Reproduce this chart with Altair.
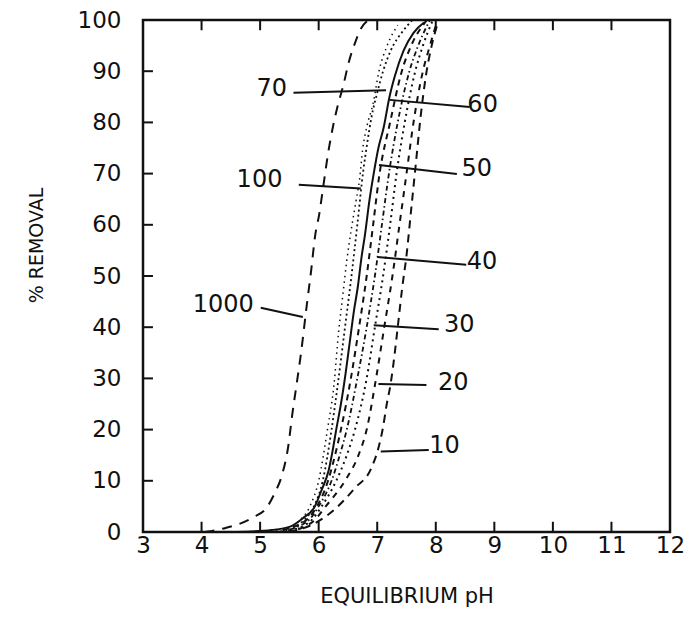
import altair as alt
import pandas as pd

# Axis ticks
ph_ticks = [3, 4, 5, 6, 7, 8, 9, 10, 11, 12]
removal_ticks = [0, 10, 20, 30, 40, 50, 60, 70, 80, 90, 100]
inner_ph_ticks = [4, 5, 6, 7, 8, 9, 10, 11]
inner_removal_ticks = [10, 20, 30, 40, 50, 60, 70, 80, 90]

# Removal curves: equilibrium pH against % removal
ph_1000 = [4.05, 4.38, 4.87, 5.12, 5.25, 5.37, 5.48, 5.55, 5.62, 5.69, 5.80, 5.87,
           5.94, 6.01, 6.08, 6.16, 6.25, 6.32, 6.42, 6.52, 6.62, 6.72, 6.85]
pct_1000 = [0, 0.7, 2.8, 4.9, 7.6, 11, 16.7, 23, 28.6, 34.2, 44.6, 50.9,
            57.9, 62.1, 67.6, 73.9, 79.5, 83, 87.2, 92, 95.5, 98.3, 100]

ph_100 = [5.3, 5.65, 5.85, 6.0, 6.15, 6.26, 6.34, 6.41, 6.48, 6.56, 6.64, 6.70,
          6.75, 6.83, 6.93, 7.03, 7.17, 7.35]
pct_100 = [0, 2, 5, 10, 20, 28.6, 39, 46, 53, 59.3, 64.8, 69,
           74.6, 79.5, 83.7, 90, 95, 99]

ph_70 = [5.4, 5.72, 5.92, 6.07, 6.22, 6.34, 6.45, 6.56, 6.66, 6.76, 6.83, 6.90,
         7.0, 7.10, 7.23, 7.45, 7.6]
pct_70 = [0, 2, 5, 10, 20, 30, 40, 50, 60, 70.4, 76, 80.9,
          85.8, 90, 94, 98, 100]

ph_60 = [4.6, 5.2, 5.5, 5.73, 5.93, 6.05, 6.17, 6.24, 6.30, 6.38, 6.46, 6.53,
         6.60, 6.67, 6.73, 6.79, 6.87, 6.94, 7.02, 7.11, 7.21, 7.30, 7.45, 7.62, 7.8]
pct_60 = [0, 0.4, 1.0, 2.7, 4.9, 8.2, 12, 16, 20, 25, 31, 37,
          43, 48, 53.5, 58, 65, 70, 75, 79, 85, 89, 94, 97.5, 99.5]

pct_levels = [0, 2, 5, 10, 15, 20, 30, 40, 50, 60, 70, 80, 90, 95, 100]
ph_50 = [5.2, 5.75, 5.97, 6.16, 6.28, 6.38, 6.55, 6.69, 6.82, 6.93, 7.04, 7.22, 7.42, 7.58, 7.85]
ph_40 = [5.3, 5.8, 6.0, 6.22, 6.36, 6.48, 6.66, 6.82, 6.96, 7.08, 7.2, 7.35, 7.55, 7.7, 7.9]
ph_30 = [5.4, 5.85, 6.05, 6.3, 6.48, 6.62, 6.82, 6.96, 7.1, 7.22, 7.33, 7.47, 7.65, 7.78, 7.95]
ph_20 = [5.45, 5.9, 6.12, 6.45, 6.68, 6.82, 6.98, 7.12, 7.26, 7.38, 7.5, 7.62, 7.78, 7.9, 8.03]

ph_10 = [5.5, 5.95, 6.3, 6.62, 6.90, 7.02, 7.10, 7.16, 7.23, 7.30, 7.35, 7.43,
         7.50, 7.58, 7.66, 7.74, 7.83, 7.93, 8.05]
pct_10 = [0, 1.8, 4.7, 8.6, 12.5, 16.4, 20.5, 24.8, 29, 35, 40, 48,
          54, 63, 72, 81, 89, 95, 100]

# Curve labels and their leader lines
label_text = ["70", "60", "100", "50", "1000", "40", "30", "20", "10"]
label_ph = [5.20, 8.80, 4.99, 8.70, 4.37, 8.79, 8.40, 8.30, 8.15]
label_pct = [86.5, 83.4, 68.8, 70.9, 44.3, 52.7, 40.4, 29.1, 16.8]
leader_ph_start = [5.57, 7.21, 5.66, 7.03, 5.01, 7.00, 6.94, 7.02, 7.06]
leader_pct_start = [85.8, 84.4, 67.8, 71.7, 43.8, 53.7, 40.4, 28.9, 15.7]
leader_ph_end = [7.15, 8.58, 6.72, 8.36, 5.73, 8.52, 8.05, 7.84, 7.88]
leader_pct_end = [86.3, 83.0, 67.1, 69.9, 42.0, 52.2, 39.6, 28.7, 16.0]

curves = [
    ("1000", ph_1000, pct_1000, [10, 8], 2.0),
    ("100", ph_100, pct_100, [1.5, 4], 1.5),
    ("70", ph_70, pct_70, [2, 3], 1.8),
    ("60", ph_60, pct_60, [], 2.0),
    ("50", ph_50, pct_levels, [6, 5], 2.0),
    ("40", ph_40, pct_levels, [5, 3, 1.5, 3], 1.8),
    ("30", ph_30, pct_levels, [2, 4], 2.0),
    ("20", ph_20, pct_levels, [6, 6], 2.0),
    ("10", ph_10, pct_10, [8, 6], 2.0),
]

FONT = "DejaVu Sans"
INK = "#111111"
TICK_PCT = 2.0     # inner tick length in % units
TICK_PH = 0.17     # inner tick length in pH units

x_scale = alt.Scale(domain=[3, 12], nice=False, zero=False)
y_scale = alt.Scale(domain=[0, 100], nice=False, zero=False)

x_axis = alt.Axis(values=ph_ticks, title="EQUILIBRIUM pH", ticks=False, domain=False,
                  grid=False, labelPadding=2, titlePadding=28, labelFlush=False,
                  labelOverlap=False, format="d")
y_axis = alt.Axis(values=removal_ticks, title="% REMOVAL", ticks=False, domain=False,
                  grid=False, labelPadding=22, labelFlush=False, labelOverlap=False,
                  titleAngle=-90, titleX=-107, titleY=225, titleAlign="center",
                  titleBaseline="middle", format="d")


def X(field):
    return alt.X(f"{field}:Q", scale=x_scale, axis=x_axis)


def Y(field):
    return alt.Y(f"{field}:Q", scale=y_scale, axis=y_axis)


layers = []
for name, phs, pcts, dash, width in curves:
    df = pd.DataFrame({"ph": phs, "pct": pcts, "curve": name})
    mark_kw = dict(color=INK, strokeWidth=width, interpolate="monotone")
    if dash:
        mark_kw["strokeDash"] = dash
    layers.append(
        alt.Chart(df).mark_line(**mark_kw).encode(
            x=X("ph"), y=Y("pct"), order="pct:Q"
        )
    )

leaders = pd.DataFrame({
    "ph0": leader_ph_start, "pct0": leader_pct_start,
    "ph1": leader_ph_end, "pct1": leader_pct_end,
})
layers.append(
    alt.Chart(leaders).mark_rule(color=INK, strokeWidth=2).encode(
        x=X("ph0"), x2="ph1", y=Y("pct0"), y2="pct1"
    )
)

labels = pd.DataFrame({"text": label_text, "ph": label_ph, "pct": label_pct})
layers.append(
    alt.Chart(labels).mark_text(font=FONT, fontSize=24, color=INK,
                                align="center", baseline="middle").encode(
        x=X("ph"), y=Y("pct"), text="text:N"
    )
)

# Inward ticks on the bottom, top and left edges of the frame
bottom_ticks = pd.DataFrame({"ph": inner_ph_ticks, "y0": 0.0, "y1": TICK_PCT})
top_ticks = pd.DataFrame({"ph": inner_ph_ticks, "y0": 100.0, "y1": 100.0 - TICK_PCT})
left_ticks = pd.DataFrame({"pct": inner_removal_ticks, "x0": 3.0, "x1": 3.0 + TICK_PH})
for t in (bottom_ticks, top_ticks):
    layers.append(
        alt.Chart(t).mark_rule(color=INK, strokeWidth=2).encode(
            x=X("ph"), y=Y("y0"), y2="y1"
        )
    )
layers.append(
    alt.Chart(left_ticks).mark_rule(color=INK, strokeWidth=2).encode(
        x=X("x0"), x2="x1", y=Y("pct")
    )
)

chart = alt.layer(*layers).properties(
    width=527, height=512,
    autosize=alt.AutoSizeParams(type="none"),
    padding={"left": 143, "top": 20, "right": 24, "bottom": 100},
    background="white",
).configure_view(
    stroke=INK, strokeWidth=2.5
).configure_axis(
    labelFont=FONT, labelFontSize=23, labelColor=INK,
    titleFont=FONT, titleColor=INK, titleFontWeight="normal",
).configure_axisX(
    titleFontSize=21
).configure_axisY(
    titleFontSize=19
)

chart.save("out.html", embed_options={"renderer": "svg", "actions": False})
